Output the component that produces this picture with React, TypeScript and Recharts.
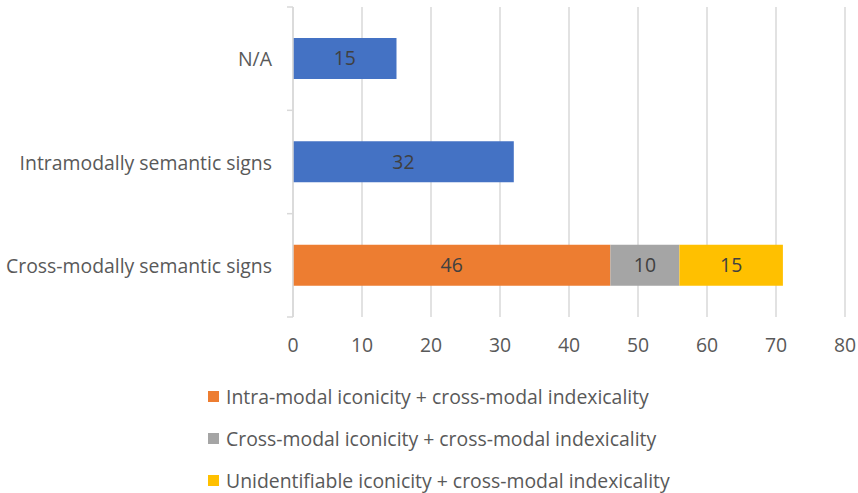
import { BarChart, Bar, XAxis, YAxis, CartesianGrid, Legend, LabelList } from 'recharts';

const categories = ['N/A', 'Intramodally semantic signs', 'Cross-modally semantic signs'];
const semanticOnly = [15, 32, null];
const intraIconicity = [null, null, 46];
const crossIconicity = [null, null, 10];
const unidentifiedIconicity = [null, null, 15];
const xTicks = [0, 10, 20, 30, 40, 50, 60, 70, 80];

const SERIES = [
    { key: 'semantic', name: 'Semantic signs', color: '#4472c4', values: semanticOnly, legend: false },
    { key: 'intra', name: 'Intra-modal iconicity + cross-modal indexicality', color: '#ed7d31', values: intraIconicity, legend: true },
    { key: 'cross', name: 'Cross-modal iconicity + cross-modal indexicality', color: '#a5a5a5', values: crossIconicity, legend: true },
    { key: 'unident', name: 'Unidentifiable iconicity + cross-modal indexicality', color: '#ffc000', values: unidentifiedIconicity, legend: true },
];

const data = categories.map((name, i) => {
    const row: Record<string, string | number | null> = { name };
    SERIES.forEach((s) => { row[s.key] = s.values[i]; });
    return row;
});

const FONT = '"Open Sans", sans-serif';
const FS = 19.4;
const TEXT = '#595959';
const GRID = '#d9d9d9';

const CategoryTick = (props: any) => {
    const { x, y, payload, index } = props;
    const half = typeof payload?.offset === 'number' && payload.offset > 0 ? payload.offset : 310 / categories.length / 2;
    const lx1 = x + 15;
    const lx2 = x + 21;
    return (
        <g>
            <text x={x} y={y} textAnchor="end" dominantBaseline="central" fill={TEXT} fontSize={FS} fontFamily={FONT}>
                {payload.value}
            </text>
            <line x1={lx1} x2={lx2} y1={y - half} y2={y - half} stroke={GRID} strokeWidth={1.5} />
            {index === categories.length - 1 && (
                <line x1={lx1} x2={lx2} y1={y + half} y2={y + half} stroke={GRID} strokeWidth={1.5} />
            )}
        </g>
    );
};

const LegendContent = (props: any) => {
    // keep series order (recharts sorts by name otherwise)
    const byName = new Map((props.payload || []).map((p: any) => [p.value, p]));
    const items = SERIES.filter((s) => s.legend && byName.has(s.name));
    return (
        <div style={{ fontFamily: FONT }}>
            {items.map((s) => (
                <div key={s.key} style={{ display: 'flex', alignItems: 'center', height: 42, whiteSpace: 'nowrap' }}>
                    <span style={{ width: 11, height: 11, background: s.color, display: 'inline-block', marginRight: 7 }} />
                    <span style={{ fontSize: FS, color: TEXT }}>{s.name}</span>
                </div>
            ))}
        </div>
    );
};

export default function App() {
    return (
        <div style={{ position: 'absolute', left: 0, top: 0, width: 858, height: 493, background: '#fff', fontFamily: FONT }}>
            <BarChart width={858} height={493} data={data} layout="vertical" margin={{ top: 7, right: 13, bottom: 146, left: 0 }}>
                <CartesianGrid horizontal={false} vertical stroke={GRID} strokeWidth={1.5} />
                <XAxis
                    type="number"
                    domain={[0, 80]}
                    ticks={xTicks}
                    axisLine={false}
                    tickLine={false}
                    tickSize={6}
                    tickMargin={15}
                    height={30}
                    tick={{ fill: TEXT, fontSize: FS, fontFamily: FONT }}
                />
                <YAxis
                    type="category"
                    dataKey="name"
                    width={293}
                    axisLine={{ stroke: GRID, strokeWidth: 1.5 }}
                    tickLine={false}
                    tickSize={6}
                    tickMargin={15}
                    tick={<CategoryTick />}
                />
                <Legend
                    layout="vertical"
                    align="center"
                    verticalAlign="middle"
                    wrapperStyle={{ top: 375, left: 208, width: 'auto' }}
                    content={<LegendContent />}
                />
                {SERIES.map((s) => (
                    <Bar
                        key={s.key}
                        dataKey={s.key}
                        name={s.name}
                        stackId="a"
                        fill={s.color}
                        barSize={41}
                        legendType={s.legend ? 'square' : 'none'}
                        isAnimationActive={false}
                    >
                        <LabelList
                            dataKey={s.key}
                            position="center"
                            fill="#404040"
                            fontSize={FS}
                            fontFamily={FONT}
                            formatter={(v: any) => (v ? v : '')}
                        />
                    </Bar>
                ))}
            </BarChart>
        </div>
    );
}
